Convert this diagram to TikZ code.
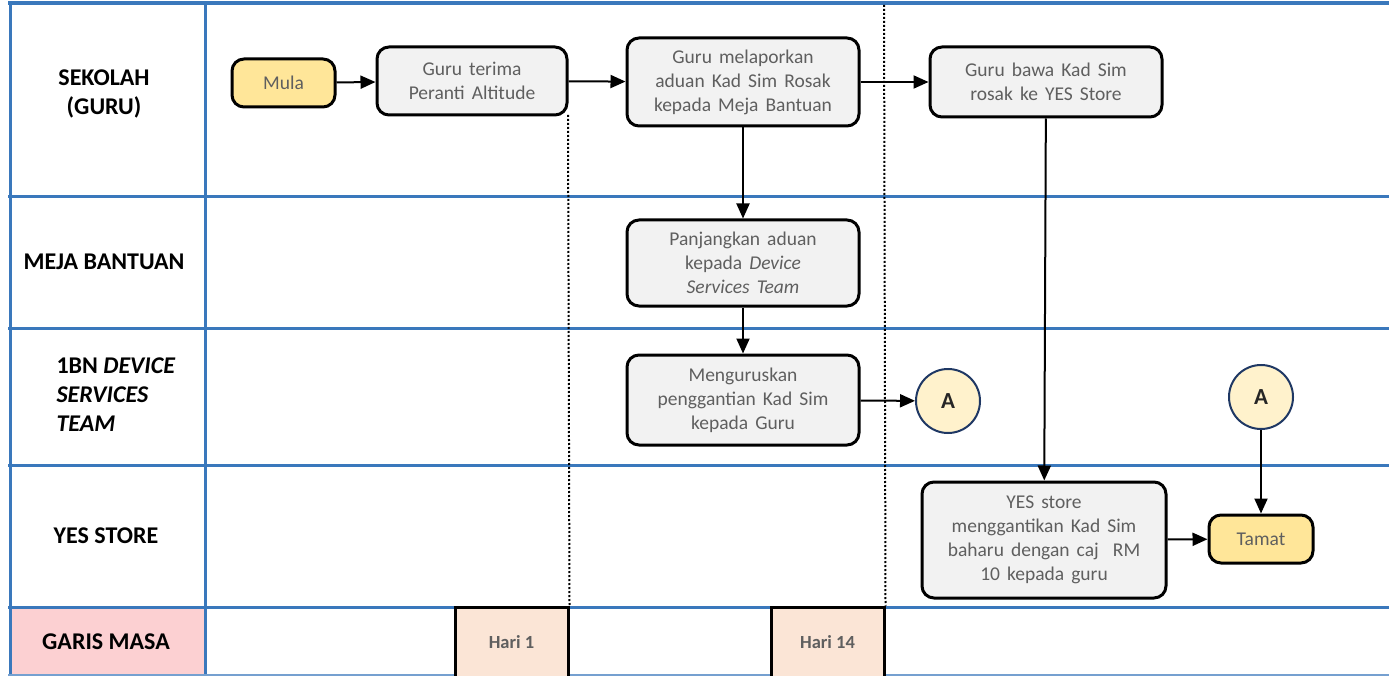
\documentclass[tikz,border=0pt]{standalone}
\usepackage{fontspec}
\setmainfont{Carlito}
\newfontfamily\boxfont{Carlito}[WordSpace=1.6]
\usetikzlibrary{arrows.meta}
\definecolor{gridblue}{HTML}{3A78BC}
\definecolor{boxgray}{HTML}{F2F2F2}
\definecolor{txtgray}{HTML}{5F5F5F}
\definecolor{startyel}{HTML}{FFE699}
\definecolor{conyel}{HTML}{FFF2CC}
\definecolor{connavy}{HTML}{1F3864}
\definecolor{harifill}{HTML}{FBE5D6}
\definecolor{pinkcell}{HTML}{FCD0D2}
\tikzset{
  procbox/.style={draw=black, line width=3pt, rounded corners=12pt, fill=boxgray,
    text=txtgray, align=center, inner sep=2pt,
    font=\boxfont\fontsize{19.5}{24}\selectfont},
  termbox/.style={procbox, fill=startyel},
  conn/.style={circle, draw=connavy, line width=2pt, fill=conyel, minimum size=64pt,
    inner sep=0pt, font=\bfseries\fontsize{23}{26}\selectfont, text=black!85},
  haribox/.style={draw=black, line width=3pt, fill=harifill, minimum width=113pt,
    minimum height=70pt, text=txtgray, font=\bfseries\fontsize{18.5}{22}\selectfont},
  lab/.style={align=center, font=\bfseries\fontsize{24}{29}\selectfont, text=black},
  gridline/.style={draw=gridblue, line width=3pt},
  flow/.style={draw=black, line width=2pt, -{Triangle[length=15pt,width=13pt]}},
  timeline/.style={draw=black, line width=2pt, dash pattern=on 2pt off 2pt}
}
\begin{document}
\begin{tikzpicture}[x=1pt,y=-1pt]
\useasboundingbox (0,0) rectangle (1389,676);
% pink cell
\fill[pinkcell] (10,607) rectangle (205,676);
% grid
\draw[gridblue, line width=4pt] (8,3.5) -- (1389,3.5);
\draw[gridline] (10,3) -- (10,676);
\draw[gridline] (205,3) -- (205,676);
\draw[gridline] (8,197) -- (1389,197);
\draw[gridline] (8,328) -- (1389,328);
\draw[gridline] (8,465) -- (1389,465);
\draw[gridline] (8,607) -- (1389,607);
\draw[gridblue!70, line width=2pt] (8,675) -- (1389,675);
% timeline markers
\node[haribox] (h1) at (511.5,642) {Hari 1};
\node[haribox] (h14) at (827.5,642) {Hari 14};
\coordinate (d1top) at (568,115);
\coordinate (d2top) at (884,5);
\draw[timeline] (d1top) -- (h1.north east);
\draw[timeline] (d2top) -- (h14.north east);
% lane labels
\node[lab] (l1) at (104,94) {SEKOLAH\\(GURU)};
\node[lab] (l2) at (104,262) {MEJA BANTUAN};
\node[lab, anchor=west, align=left] (l3) at (53,395) {1BN \textit{DEVICE}\\\textit{SERVICES}\\\textit{TEAM}};
\node[lab] (l4) at (106,536) {YES STORE};
\node[lab] (l5) at (106,642) {GARIS MASA};
% process nodes
\node[termbox, minimum width=103pt, minimum height=48pt] (mula) at (283.5,83) {Mula};
\node[procbox, minimum width=190pt, minimum height=68pt] (terima) at (472,81) {Guru terima\\Peranti Altitude};
\node[procbox, minimum width=232pt, minimum height=88pt] (lapor) at (743,82) {Guru melaporkan\\aduan Kad Sim Rosak\\kepada Meja Bantuan};
\node[procbox, minimum width=232pt, minimum height=70pt] (bawa) at (1046,82) {Guru bawa Kad Sim\\rosak ke YES Store};
\node[procbox, minimum width=232pt, minimum height=86pt] (panjang) at (743,263) {Panjangkan aduan\\kepada \textit{Device}\\\textit{Services Team}};
\node[procbox, minimum width=232pt, minimum height=90pt] (urus) at (743,400) {Menguruskan\\penggantian Kad Sim\\kepada Guru};
\node[conn] (a1) at (948,401) {A};
\node[conn] (a2) at (1261,397) {A};
\node[procbox, minimum width=244pt, minimum height=116pt] (yes) at (1044,540) {YES store\\menggantikan Kad Sim\\baharu dengan caj\ \ RM\\10 kepada guru};
\node[termbox, minimum width=104pt, minimum height=48pt] (tamat) at (1261,539) {Tamat};
% connectors
\draw[flow] (mula) -- (terima);
\draw[flow] (terima) -- (lapor);
\draw[flow] (lapor) -- (bawa);
\draw[flow] (lapor) -- (panjang);
\draw[flow] (panjang) -- (urus);
\draw[flow] (urus) -- (a1);
\draw[flow] (bawa) -- (yes);
\draw[flow] (yes) -- (tamat);
\draw[flow] (a2) -- (tamat);
\end{tikzpicture}
\end{document}
